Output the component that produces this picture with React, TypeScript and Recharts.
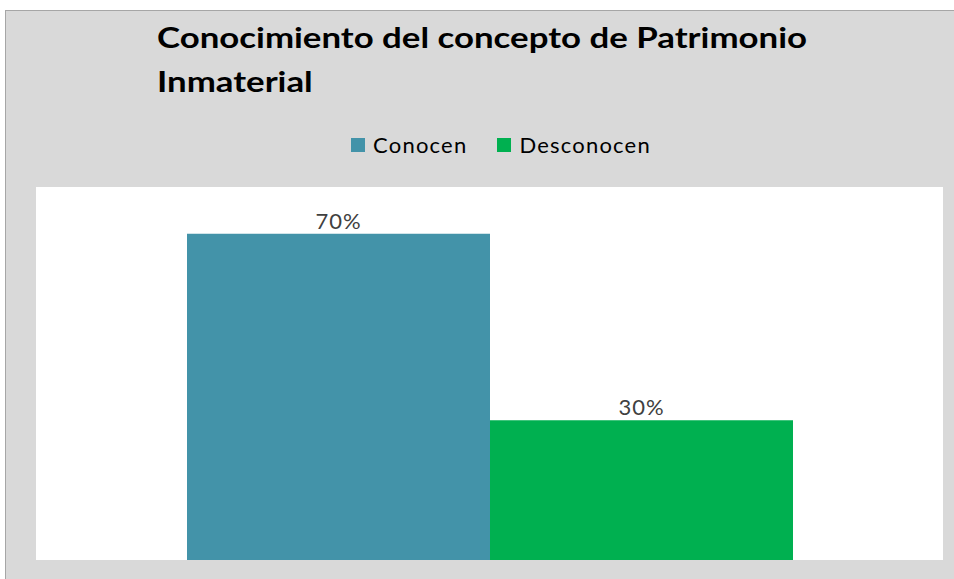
import React from "react";
import { BarChart, Bar, XAxis, YAxis, CartesianGrid, LabelList } from "recharts";

const categories = ["Conocimiento"];
const seriesNames = ["Conocen", "Desconocen"];
const conocenValues = [0.7];
const desconocenValues = [0.3];
const seriesColors = ["#4393a9", "#00b050"];
const titleLines = ["Conocimiento del concepto de Patrimonio", "Inmaterial"];

const data = categories.map((c, i) => ({
  name: c,
  Conocen: conocenValues[i],
  Desconocen: desconocenValues[i],
}));

const FONT = "Lato, 'Open Sans', sans-serif";

export default function App() {
  return (
    <div style={{ position: "absolute", left: 0, top: 0, width: 954, height: 579, background: "#fff", overflow: "hidden", fontFamily: FONT }}>
      <div style={{ position: "absolute", left: 5, top: 10, width: 960, height: 580, background: "#d9d9d9", borderTop: "1px solid #a6a6a6", borderLeft: "1px solid #a6a6a6" }} />
      <div style={{ position: "absolute", left: 157, top: 15, fontSize: 29, fontWeight: 700, lineHeight: "44px", color: "#000", whiteSpace: "nowrap", transform: "scaleX(1.2)", transformOrigin: "0 0" }}>
        {titleLines.map((t) => (
          <div key={t}>{t}</div>
        ))}
      </div>
      <div style={{ position: "absolute", left: 24, top: 131, width: 954, display: "flex", justifyContent: "center", fontSize: 22, color: "#000" }}>
        <div style={{ display: "flex", alignItems: "center", marginLeft: 0 }}>
          {seriesNames.map((n, i) => (
            <div key={n} style={{ display: "flex", alignItems: "center", marginRight: i === 0 ? 30 : 0 }}>
              <span style={{ width: 14, height: 14, background: seriesColors[i], display: "inline-block", marginRight: 8 }} />
              <span style={{ letterSpacing: 1.2 }}>{n}</span>
            </div>
          ))}
        </div>
      </div>
      <div style={{ position: "absolute", left: 0, top: 0 }}>
        <BarChart width={954} height={579} data={data} margin={{ top: 187, left: 36, right: 11, bottom: 19 }} barGap={0} barCategoryGap={151}>
          <CartesianGrid fill="#ffffff" stroke="none" horizontal={false} vertical={false} />
          <XAxis dataKey="name" hide />
          <YAxis hide domain={[0, 0.8]} />
          {seriesNames.map((n, i) => (
            <Bar key={n} dataKey={n} fill={seriesColors[i]} isAnimationActive={false}>
              <LabelList dataKey={n} position="top" offset={5} fill="#404040" fontSize={22} letterSpacing={1} fontFamily={FONT} formatter={(v: any) => `${Math.round(Number(v) * 100)}%`} />
            </Bar>
          ))}
        </BarChart>
      </div>
    </div>
  );
}
